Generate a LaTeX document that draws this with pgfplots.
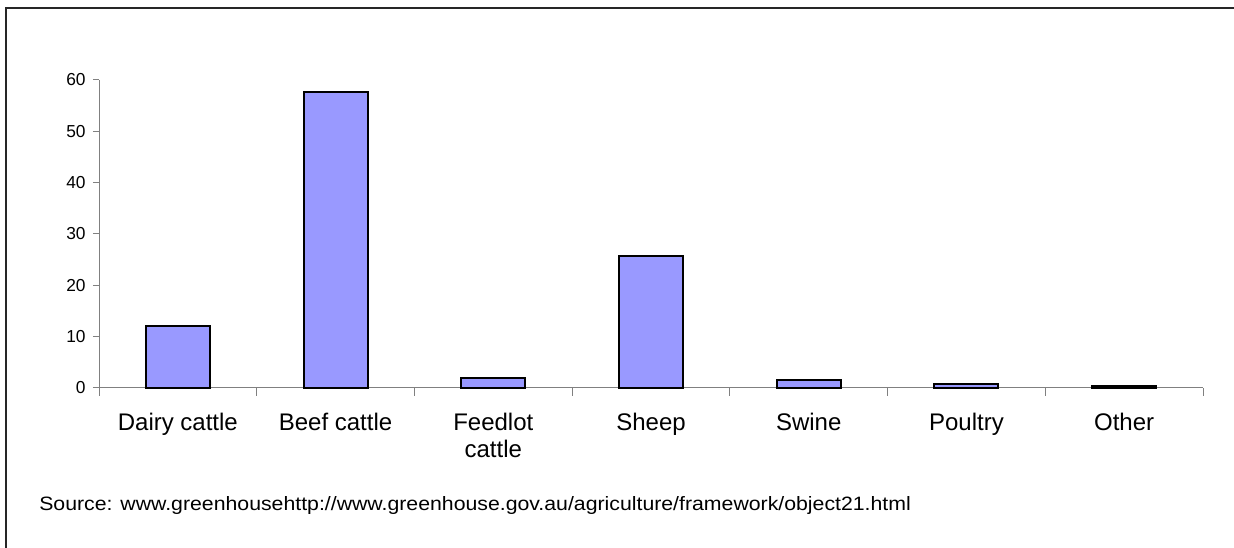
\documentclass[border=0pt]{standalone}
\usepackage{pgfplots}
\pgfplotsset{compat=1.18}
\usepackage{fontspec}
\setmainfont{Liberation Sans}
\newfontfamily\widefont[FakeStretch=1.1]{Liberation Sans}
\definecolor{barblue}{HTML}{9999FF}
\definecolor{axgray}{HTML}{808080}
\begin{document}
\begin{tikzpicture}[x=0.75pt,y=0.75pt]
\useasboundingbox (0,0) rectangle (1234,548);
\draw[line width=1.5pt, black!85] (6,-5) -- (6,540) -- (1240,540);
\begin{axis}[
  at={(74.25pt,120pt)}, anchor=south west,
  scale only axis,
  width=828pt, height=231pt,
  xmin=-0.5, xmax=6.5,
  ymin=0, ymax=60,
  axis lines=left,
  axis line style={axgray, line width=0.75pt, -},
  xtick={0,1,2,3,4,5,6},
  xticklabels={Dairy cattle, Beef cattle, {Feedlot\\cattle}, Sheep, Swine, Poultry, Other},
  minor xtick={-0.5,0.5,...,6.5},
  ytick={0,10,...,60},
  major x tick style={draw=none},
  minor x tick style={axgray, line width=0.75pt},
  minor tick length=6pt,
  major tick length=4.5pt,
  y tick style={axgray, line width=0.75pt},
  tick align=outside,
  xticklabel style={font=\fontsize{18}{20}\selectfont, align=center, yshift=-11pt},
  yticklabel style={font=\fontsize{13}{15}\selectfont, xshift=-2pt},
  /pgf/number format/assume math mode=true,
  ybar, bar width=48pt,
  clip=false,
]
\addplot[fill=barblue, draw=black, line width=1.5pt] coordinates {
 (0,12.1) (1,57.7) (2,2.0) (3,25.7) (4,1.55) (5,0.8) (6,0.4)};
\end{axis}
\node[anchor=base west, font=\widefont\fontsize{14.5}{16}\selectfont, inner sep=0pt] at (39,37) {Source: www.greenhousehttp://www.greenhouse.gov.au/agriculture/framework/object21.html};
\end{tikzpicture}
\end{document}
